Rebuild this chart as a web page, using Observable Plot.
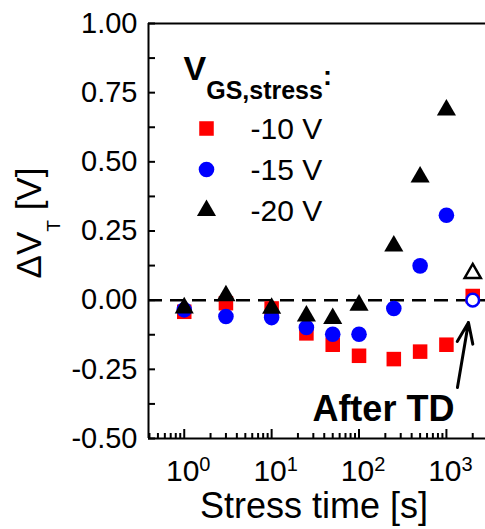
<!DOCTYPE html>
<html><head><meta charset="utf-8">
<script src="https://cdn.jsdelivr.net/npm/d3@7"></script>
<script src="https://cdn.jsdelivr.net/npm/@observablehq/plot@0.6"></script>
<style>body{margin:0;background:#fff} svg{display:block}</style>
</head><body><div id="chart"></div>
<script>
// ---- data ----
const stressTime = [1, 3, 10, 25, 50, 100, 250, 500, 1000];
const dvt10 = [-0.042, -0.011, -0.030, -0.120, -0.161, -0.201, -0.213, -0.186, -0.161];
const dvt15 = [-0.035, -0.059, -0.063, -0.099, -0.123, -0.123, -0.030, 0.124, 0.307];
const dvt20 = [-0.028, 0.016, -0.029, -0.057, -0.066, -0.018, 0.196, 0.445, 0.687];
const afterTDTime = 2000;
const afterTDValues = [0.015, 0.0, 0.097]; // -10 V, -15 V, -20 V
const seriesLabels = ["-10 V", "-15 V", "-20 V"];
const seriesColors = ["#ff0000", "#0000ff", "#000000"];
const seriesSymbols = ["square", "circle", "triangle"];
const seriesR = [8.2, 7.8, 7.1];
const xMajorTicks = [1, 10, 100, 1000];
const xMinorTicks = [0.4,0.5,0.6,0.7,0.8,0.9, 2,3,4,5,6,7,8,9, 20,30,40,50,60,70,80,90, 200,300,400,500,600,700,800,900, 2000];
const yTicks = [-0.5, -0.25, 0, 0.25, 0.5, 0.75, 1.0];
const yMinorTicks = [-0.375, -0.125, 0.125, 0.375, 0.625, 0.875];
const xDomain = [0.39, 2800];
const yDomain = [-0.5, 1.0];
const arrowFrom = [1337, -0.316];
const arrowTo = [1787, -0.081];
const afterTDLabelPos = [190, -0.395];

const seriesValues = [dvt10, dvt15, dvt20];
const series = seriesLabels.map((lab, k) => stressTime.map((t, i) => ({series: lab, t, v: seriesValues[k][i]})));
const afterTD = seriesLabels.map((lab, k) => ({series: lab, t: afterTDTime, v: afterTDValues[k]}));

const FONT = "'Liberation Sans', Arial, Helvetica, sans-serif";
const LA = "middle";

const plot = Plot.plot({
  width: 485,
  height: 529,
  marginLeft: 148,
  marginRight: 0,
  marginTop: 23,
  marginBottom: 91,
  style: {fontFamily: FONT, background: "white", color: "black", overflow: "visible"},
  x: {type: "log", domain: xDomain, axis: null},
  y: {domain: yDomain, axis: null},
  marks: [
    // frame lines
    Plot.ruleY([yDomain[1]], {strokeWidth: 2}),
    Plot.ruleY([yDomain[0]], {strokeWidth: 2}),
    Plot.ruleX([xDomain[0]], {strokeWidth: 2}),
    // ticks (inward)
    Plot.ruleY(yTicks.concat(yMinorTicks), {y: d => d, x1: xDomain[0], x2: xDomain[0], insetRight: -7, strokeWidth: 2}),
    Plot.ruleX(xMajorTicks, {x: d => d, y1: yDomain[0], y2: yDomain[0], insetTop: -9, strokeWidth: 2}),
    Plot.ruleX(xMinorTicks, {x: d => d, y1: yDomain[0], y2: yDomain[0], insetTop: -5, strokeWidth: 2}),
    // tick labels
    Plot.text(yTicks, {y: d => d, frameAnchor: "left", lineAnchor: LA, textAnchor: "end", dx: -11, text: d => d.toFixed(2), fontSize: 29}),
    Plot.text(xMajorTicks, {x: d => d, frameAnchor: "bottom", lineAnchor: LA, dy: 33, text: d => "10^" + Math.round(Math.log10(d)), fontSize: 30, dx: 4}),
    // axis titles
    Plot.text(["Stress time [s]"], {frameAnchor: "bottom", lineAnchor: LA, dx: -3, dy: 68, fontSize: 36}),
    Plot.text(["ΔV_T [V]"], {frameAnchor: "left", lineAnchor: LA, dx: -119, dy: -8, rotate: -90, fontSize: 35, textAnchor: "middle"}),
    // zero line
    Plot.ruleY([0], {strokeDasharray: "14,8", strokeWidth: 2.5}),
    // data
    ...series.map((data, k) => Plot.dot(data, {x: "t", y: "v", symbol: seriesSymbols[k], fill: seriesColors[k], r: seriesR[k]})),
    Plot.dot([afterTD[0]], {x: "t", y: "v", symbol: "square", fill: seriesColors[0], r: seriesR[0]}),
    Plot.dot([afterTD[1]], {x: "t", y: "v", symbol: "circle", fill: "white", stroke: seriesColors[1], strokeWidth: 2.5, r: 6.3}),
    Plot.dot([afterTD[2]], {x: "t", y: "v", symbol: "triangle", fill: "white", stroke: seriesColors[2], strokeWidth: 2.5, r: 6}),
    // legend
    Plot.text(["VGS,stress:"], {frameAnchor: "top-left", lineAnchor: LA, dx: 35, dy: 46, textAnchor: "start", fontSize: 34, fontWeight: "bold"}),
    ...seriesLabels.map((lab, i) => Plot.dot([lab], {frameAnchor: "top-left", dx: 58, dy: 105 + 41 * i, symbol: seriesSymbols[i], fill: seriesColors[i], r: seriesR[i]})),
    ...seriesLabels.map((lab, i) => Plot.text([lab], {frameAnchor: "top-left", lineAnchor: LA, dx: 102, dy: 106 + 41 * i, text: d => d, textAnchor: "start", fontSize: 30})),
    // annotation
    Plot.text(["After TD"], {x: afterTDLabelPos[0], y: afterTDLabelPos[1], lineAnchor: LA, text: d => d, fontSize: 36, fontWeight: "bold"}),
    Plot.arrow([0], {x1: arrowFrom[0], y1: arrowFrom[1], x2: arrowTo[0], y2: arrowTo[1], strokeWidth: 3, headLength: 16, headAngle: 42, bend: 0})
  ]
});

// rich text (sub/superscripts)
const rich = {
  "VGS,stress:": [["V", {}], ["GS,stress", {size: 25, dy: 19}], [":", {size: 27, dy: -14}]],
  "ΔV_T [V]": [["ΔV", {}], ["T", {size: 19, dy: 19}], [" [V]", {size: 35, dy: -19}]]
};
d3.select(plot).selectAll("text").each(function() {
  const t = this.textContent;
  let parts = rich[t];
  const m = /^10\^(\d)$/.exec(t);
  if (m) parts = [["10", {}], [m[1], {size: 20, dy: -10}]];
  if (!parts) return;
  this.textContent = "";
  for (const [s, o] of parts) {
    const ts = d3.select(this).append("tspan").text(s);
    if (o.size) ts.attr("font-size", o.size);
    if (o.dy) ts.attr("dy", o.dy);
  }
});

document.getElementById("chart").appendChild(plot);
</script>
</body></html>
